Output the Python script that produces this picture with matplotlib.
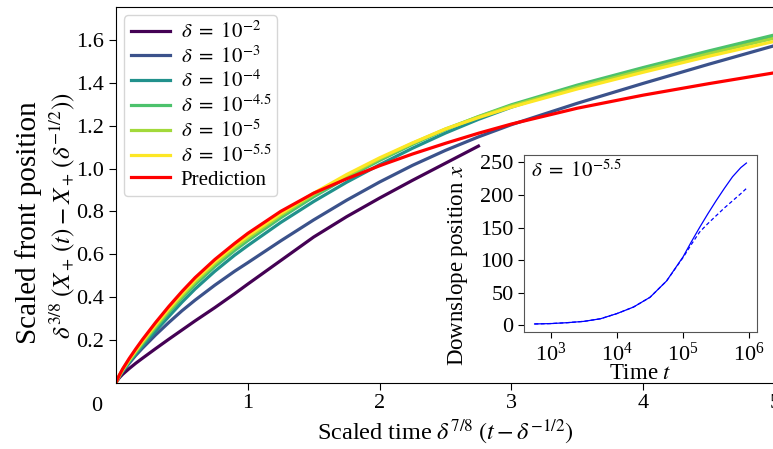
import numpy as np
import matplotlib
matplotlib.use("Agg")
import matplotlib.pyplot as plt

plt.rcParams['font.family'] = 'serif'
plt.rcParams['font.serif'] = ['Liberation Serif', 'DejaVu Serif']
plt.rcParams['mathtext.fontset'] = 'stix'

# scaled time grid (main panel)
x_main = np.array([0, 0.025, 0.05, 0.1, 0.15, 0.2, 0.3, 0.4, 0.5, 0.6, 0.75, 0.9,
                   1.0, 1.25, 1.5, 1.75, 2.0, 2.25, 2.5, 2.75, 3.0, 3.5, 4.0, 4.5, 5.0])
x_short = x_main[:20]  # delta = 1e-2 stops near 2.75

y_d2 = np.array([0, 0.022, 0.038, 0.065, 0.09, 0.113, 0.158, 0.202, 0.245, 0.288,
                 0.35, 0.415, 0.46, 0.57, 0.68, 0.775, 0.862, 0.945, 1.025, 1.105])
y_d3 = np.array([0, 0.027, 0.05, 0.09, 0.127, 0.16, 0.222, 0.28, 0.335, 0.385,
                 0.455, 0.52, 0.56, 0.662, 0.76, 0.852, 0.937, 1.015, 1.085, 1.148,
                 1.205, 1.305, 1.398, 1.488, 1.575])
y_d4 = np.array([0, 0.029, 0.053, 0.095, 0.133, 0.17, 0.24, 0.308, 0.375, 0.437,
                 0.52, 0.595, 0.64, 0.748, 0.846, 0.936, 1.018, 1.095, 1.166, 1.23,
                 1.287, 1.385, 1.468, 1.546, 1.62])
y_d45 = np.array([0, 0.031, 0.056, 0.1, 0.141, 0.18, 0.255, 0.326, 0.395, 0.458,
                  0.542, 0.617, 0.663, 0.77, 0.868, 0.957, 1.038, 1.113, 1.182, 1.243,
                  1.298, 1.39, 1.472, 1.55, 1.625])
y_d5 = np.array([0, 0.032, 0.058, 0.104, 0.146, 0.187, 0.263, 0.336, 0.405, 0.47,
                 0.555, 0.63, 0.675, 0.782, 0.878, 0.965, 1.045, 1.118, 1.185, 1.242,
                 1.293, 1.38, 1.46, 1.537, 1.61])
y_d55 = np.array([0, 0.033, 0.06, 0.107, 0.15, 0.192, 0.27, 0.345, 0.415, 0.48,
                  0.565, 0.64, 0.685, 0.79, 0.885, 0.972, 1.05, 1.12, 1.185, 1.238,
                  1.287, 1.372, 1.45, 1.525, 1.595])
y_pred = np.array([0, 0.034, 0.063, 0.112, 0.157, 0.2, 0.28, 0.355, 0.425, 0.49,
                   0.575, 0.65, 0.697, 0.8, 0.885, 0.952, 1.013, 1.068, 1.118, 1.165,
                   1.208, 1.282, 1.343, 1.397, 1.448])

labels = [r'$\delta\ =\ 10^{-2}$', r'$\delta\ =\ 10^{-3}$', r'$\delta\ =\ 10^{-4}$',
          r'$\delta\ =\ 10^{-4.5}$', r'$\delta\ =\ 10^{-5}$', r'$\delta\ =\ 10^{-5.5}$']
colores = ['#440154', '#3b528b', '#21918c', '#4cc26c', '#a2d93a', '#fde725']

# inset: unscaled front position for delta = 10^-5.5
log_t = np.array([2.75, 3, 3.25, 3.5, 3.75, 4, 4.25, 4.5, 4.75, 5, 5.125, 5.25,
                  5.375, 5.5, 5.625, 5.75, 5.875, 5.96])
x_sim = np.array([2, 2.6, 4, 6, 10, 18, 28, 43, 68, 105, 128, 150, 171, 191,
                  210, 228, 242, 249])
x_pred = np.array([2, 2.6, 4, 6, 10, 18, 28, 43, 68, 104, 124, 143, 156, 168,
                   180, 191, 202, 210])

fig = plt.figure(figsize=(7.73, 4.49), dpi=100)
ax = fig.add_axes([116 / 773, 66.5 / 449, 659 / 773, 375.5 / 449])

series = [(x_short, y_d2), (x_main, y_d3), (x_main, y_d4),
          (x_main, y_d45), (x_main, y_d5), (x_main, y_d55)]
for (xs, ys), c, lab in zip(series, colores, labels):
    ax.plot(xs, ys, color=c, lw=2.3, label=lab)
ax.plot(x_main, y_pred, color='red', lw=2.3, label='Prediction')

ax.set_xlim(0, 5)
ax.set_ylim(0, 1.755)
ax.set_xticks([1, 2, 3, 4, 5])
ax.set_yticks([0.2, 0.4, 0.6, 0.8, 1.0, 1.2, 1.4, 1.6])
ax.tick_params(labelsize=16, length=5)
ax.text(-0.144, -0.114, '0', fontsize=16, ha='center', va='center', clip_on=False)
ax.set_xlabel(r'Scaled time $\delta^{7/8}\;(t - \delta^{-1/2})$', fontsize=17.5,
              labelpad=3)
# two-line y label, first line set larger as in the original
ax.text(-0.132, 0.425, 'Scaled front position', fontsize=21, rotation=90,
        ha='center', va='center', transform=ax.transAxes)
ax.text(-0.082, 0.446, r'$\delta^{3/8}\;(X_+\,(t) - X_+\,(\delta^{-1/2}))$',
        fontsize=18, rotation=90, ha='center', va='center', transform=ax.transAxes)
ax.legend(loc='upper left', fontsize=15, labelspacing=0.15, handlelength=1.9,
          handletextpad=0.5, borderpad=0.3, borderaxespad=0.4)

axi = fig.add_axes([524 / 773, 117 / 449, 233 / 773, 177 / 449])
axi.plot(10 ** log_t, x_sim, color='blue', lw=0.9)
axi.plot(10 ** log_t, x_pred, color='blue', lw=0.9, ls=(0, (3, 2)))
axi.set_xscale('log')
axi.set_xticks([1e3, 1e4, 1e5, 1e6])
axi.set_yticks([0, 50, 100, 150, 200, 250])
axi.tick_params(labelsize=16, length=4)
for s in axi.spines.values():
    s.set_color('#555555')
axi.set_xlabel(r'Time $t$', fontsize=16.5, labelpad=-2)
axi.set_ylabel(r'Downslope position $x$', fontsize=16.5)
axi.yaxis.set_label_coords(-0.232, 0.378)
axi.text(0.03, 0.97, r'$\delta\ =\ 10^{-5.5}$', transform=axi.transAxes,
         fontsize=15, ha='left', va='top')

fig.savefig('out.png', dpi=100)
